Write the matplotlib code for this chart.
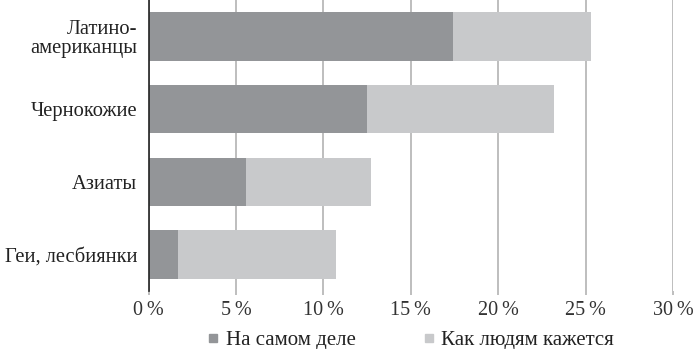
import matplotlib
matplotlib.use("Agg")
import matplotlib.pyplot as plt
from matplotlib.lines import Line2D

# data (percent)
categories = ["Латино-\nамериканцы", "Чернокожие", "Азиаты", "Геи, лесбиянки"]
actual = [17.4, 12.5, 5.6, 1.7]
perceived = [25.3, 23.2, 12.7, 10.7]
xticks = [0, 5, 10, 15, 20, 25, 30]

DARK = "#939598"
LIGHT = "#c8c9cb"
GRID = "#b3b3b3"
FONT = "Liberation Serif"

plt.rcParams["font.family"] = [FONT, "DejaVu Serif"]

fig = plt.figure(figsize=(7.0, 3.49), dpi=100)
ax = fig.add_axes([148.5 / 700, 1 - 291 / 349, (673 - 148.5) / 700, 291 / 349])

y = list(range(len(categories)))
ax.barh(y, perceived, height=0.67, color=LIGHT, zorder=3)
ax.barh(y, actual, height=0.67, color=DARK, zorder=4)

ax.set_xlim(0, 30)
ax.set_ylim(len(categories) - 0.5, -0.5)
ax.set_xticks(xticks)
ax.set_xticklabels([f"{v}\u2009%" for v in xticks], fontsize=14.5, color="#333333")
ax.set_yticks(y)
ax.set_yticklabels(categories, fontsize=14.8, color="#222222", linespacing=1.0)
ax.tick_params(axis="y", length=0, pad=8)
ax.tick_params(axis="x", length=3, color=GRID, width=1.2, pad=4)

ax.grid(axis="x", color=GRID, lw=1.2, zorder=0)
for s in ["top", "right", "bottom"]:
    ax.spines[s].set_visible(False)
ax.spines["left"].set_color("#222222")
ax.spines["left"].set_linewidth(1.2)
ax.spines["left"].set_zorder(5)

handles = [
    Line2D([], [], ls="none", marker="s", ms=6, color=DARK, label="На самом деле"),
    Line2D([], [], ls="none", marker="s", ms=6, color=LIGHT, label="Как людям кажется"),
]
fig.legend(handles=handles, loc="center", bbox_to_anchor=(410.5 / 700, 1 - 340 / 349),
           ncol=2, frameon=False, fontsize=15, handlelength=0.6, handletextpad=0.3,
           columnspacing=3.2, labelcolor="#222222")

fig.savefig("out.png", dpi=100)
